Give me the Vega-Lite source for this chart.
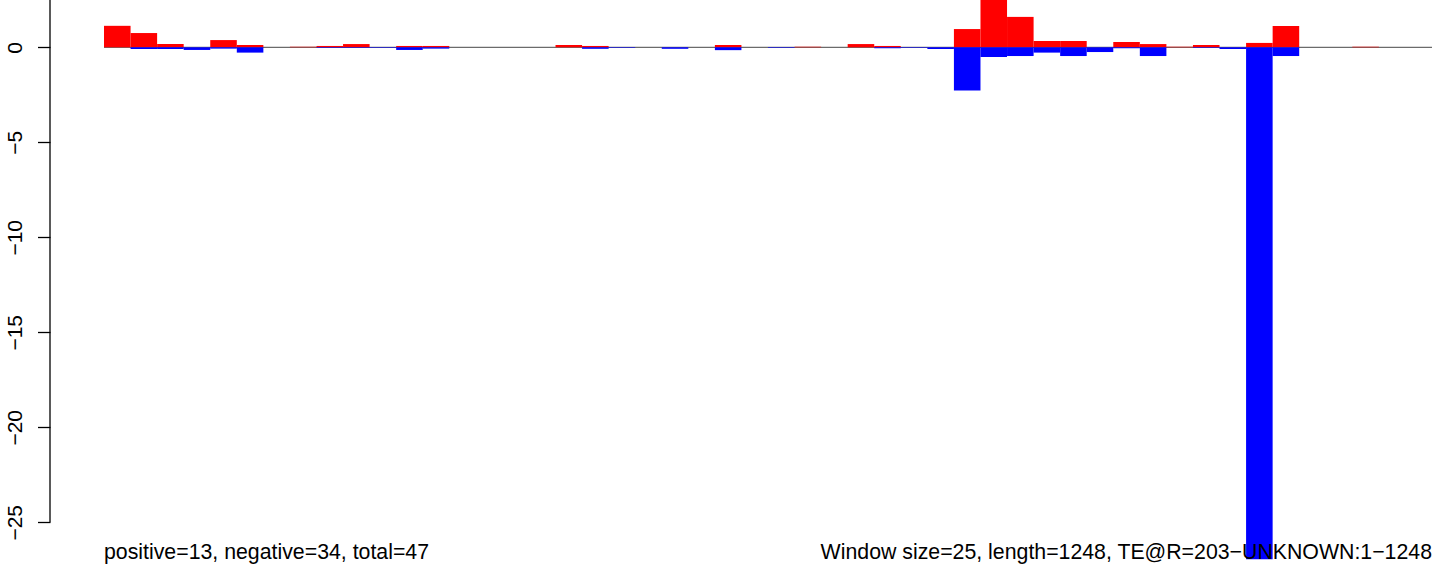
{
  "$schema": "https://vega.github.io/schema/vega-lite/v6.json",
  "width": 1394,
  "height": 571,
  "autosize": {"type": "none"},
  "padding": {"left": 50, "top": 0, "right": 0, "bottom": 0},
  "background": "white",
  "config": {"view": {"stroke": null}, "font": "Liberation Sans"},
  "data": {"values": [
    {"start": 0, "end": 25, "pos": 1.13, "neg": 0},
    {"start": 25, "end": 50, "pos": 0.75, "neg": -0.09},
    {"start": 50, "end": 75, "pos": 0.17, "neg": -0.09},
    {"start": 75, "end": 100, "pos": 0, "neg": -0.14},
    {"start": 100, "end": 125, "pos": 0.38, "neg": -0.07},
    {"start": 125, "end": 150, "pos": 0.12, "neg": -0.28},
    {"start": 150, "end": 175, "pos": 0, "neg": 0},
    {"start": 175, "end": 200, "pos": 0.03, "neg": 0},
    {"start": 200, "end": 225, "pos": 0.07, "neg": -0.03},
    {"start": 225, "end": 250, "pos": 0.17, "neg": -0.03},
    {"start": 250, "end": 275, "pos": 0, "neg": -0.03},
    {"start": 275, "end": 300, "pos": 0.07, "neg": -0.14},
    {"start": 300, "end": 325, "pos": 0.07, "neg": -0.07},
    {"start": 325, "end": 350, "pos": 0, "neg": 0},
    {"start": 350, "end": 375, "pos": 0, "neg": 0},
    {"start": 375, "end": 400, "pos": 0, "neg": 0},
    {"start": 400, "end": 425, "pos": 0, "neg": 0},
    {"start": 425, "end": 450, "pos": 0.12, "neg": 0},
    {"start": 450, "end": 475, "pos": 0.07, "neg": -0.08},
    {"start": 475, "end": 500, "pos": 0, "neg": -0.03},
    {"start": 500, "end": 525, "pos": 0, "neg": 0},
    {"start": 525, "end": 550, "pos": 0, "neg": -0.08},
    {"start": 550, "end": 575, "pos": 0, "neg": 0},
    {"start": 575, "end": 600, "pos": 0.12, "neg": -0.15},
    {"start": 600, "end": 625, "pos": 0, "neg": 0},
    {"start": 625, "end": 650, "pos": 0, "neg": -0.03},
    {"start": 650, "end": 675, "pos": 0.03, "neg": 0},
    {"start": 675, "end": 700, "pos": 0, "neg": 0},
    {"start": 700, "end": 725, "pos": 0.17, "neg": 0},
    {"start": 725, "end": 750, "pos": 0.07, "neg": -0.05},
    {"start": 750, "end": 775, "pos": 0, "neg": -0.03},
    {"start": 775, "end": 800, "pos": 0, "neg": -0.09},
    {"start": 800, "end": 825, "pos": 0.96, "neg": -2.28},
    {"start": 825, "end": 850, "pos": 3.0, "neg": -0.51},
    {"start": 850, "end": 875, "pos": 1.6, "neg": -0.46},
    {"start": 875, "end": 900, "pos": 0.33, "neg": -0.28},
    {"start": 900, "end": 925, "pos": 0.33, "neg": -0.46},
    {"start": 925, "end": 950, "pos": 0, "neg": -0.25},
    {"start": 950, "end": 975, "pos": 0.28, "neg": -0.05},
    {"start": 975, "end": 1000, "pos": 0.17, "neg": -0.46},
    {"start": 1000, "end": 1025, "pos": 0.03, "neg": 0},
    {"start": 1025, "end": 1050, "pos": 0.12, "neg": -0.03},
    {"start": 1050, "end": 1075, "pos": 0, "neg": -0.09},
    {"start": 1075, "end": 1100, "pos": 0.23, "neg": -26.95},
    {"start": 1100, "end": 1125, "pos": 1.12, "neg": -0.46},
    {"start": 1125, "end": 1150, "pos": 0, "neg": 0},
    {"start": 1150, "end": 1175, "pos": 0, "neg": 0},
    {"start": 1175, "end": 1200, "pos": 0.03, "neg": 0},
    {"start": 1200, "end": 1225, "pos": 0, "neg": 0},
    {"start": 1225, "end": 1250, "pos": 0, "neg": 0}
  ]},
  "layer": [
    {
      "data": {"values": [{}]},
      "mark": {"type": "rule", "color": "#6b6b6b", "strokeWidth": 1.3},
      "encoding": {
        "x": {"datum": 0, "type": "quantitative", "scale": {"domain": [-50.83, 1261.3], "nice": false, "zero": false}, "axis": null},
        "x2": {"datum": 1250},
        "y": {"datum": 0, "type": "quantitative", "scale": {"domain": [-27.563, 2.489], "nice": false, "zero": false},
          "axis": {"title": null, "domain": false, "grid": false, "values": [-25, -20, -15, -10, -5, 0],
            "tickSize": 12.5, "tickColor": "black", "tickWidth": 1.3, "labelAngle": 270, "labelAlign": "center",
            "labelBaseline": "bottom", "labelPadding": 12, "labelFontSize": 21, "labelColor": "black",
            "labelFont": "Liberation Sans", "labelFlush": false, "labelOverlap": false}}
      }
    },
    {
      "data": {"values": [{}]},
      "mark": {"type": "rule", "color": "black", "strokeWidth": 1.3},
      "encoding": {
        "x": {"datum": -50.83, "type": "quantitative"},
        "y": {"datum": -25, "type": "quantitative"},
        "y2": {"datum": 2.489}
      }
    },
    {
      "mark": {"type": "bar", "color": "#ff0000", "clip": true},
      "encoding": {
        "x": {"field": "start", "type": "quantitative"},
        "x2": {"field": "end"},
        "y": {"field": "pos", "type": "quantitative"},
        "y2": {"datum": 0}
      }
    },
    {
      "mark": {"type": "bar", "color": "#0000ff", "clip": true},
      "encoding": {
        "x": {"field": "start", "type": "quantitative"},
        "x2": {"field": "end"},
        "y": {"field": "neg", "type": "quantitative"},
        "y2": {"datum": 0}
      }
    },
    {
      "data": {"values": [{}]},
      "mark": {"type": "text", "align": "left", "baseline": "alphabetic", "fontSize": 21.3, "color": "black", "font": "Liberation Sans"},
      "encoding": {
        "x": {"datum": 0, "type": "quantitative"},
        "y": {"datum": -26.93, "type": "quantitative"},
        "text": {"value": "positive=13, negative=34, total=47"}
      }
    },
    {
      "data": {"values": [{}]},
      "mark": {"type": "text", "align": "right", "baseline": "alphabetic", "fontSize": 21.3, "color": "black", "font": "Liberation Sans"},
      "encoding": {
        "x": {"datum": 1250, "type": "quantitative"},
        "y": {"datum": -26.93, "type": "quantitative"},
        "text": {"value": "Window size=25, length=1248, TE@R=203−UNKNOWN:1−1248"}
      }
    }
  ]
}
